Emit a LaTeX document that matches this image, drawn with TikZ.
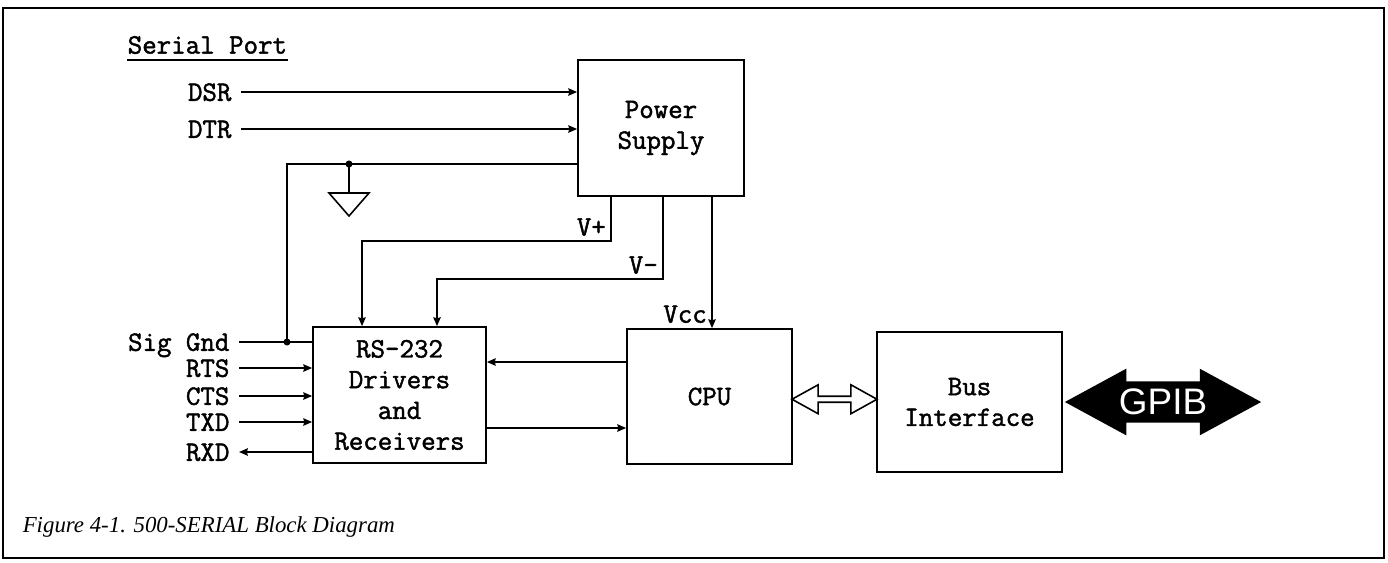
\documentclass[tikz,border=0pt]{standalone}
\usepackage{fontspec}
\setmainfont{Liberation Serif}
\setsansfont{Liberation Sans}
\setmonofont{Latin Modern Mono}[BoldFont={Latin Modern Mono}, BoldFeatures={FakeBold=1.6}]
\usetikzlibrary{arrows.meta,positioning,shapes.arrows,calc}

\begin{document}
\begin{tikzpicture}[
    x=0.02cm, y=-0.02cm,
    >={Stealth[length=5pt,width=4.2pt,inset=0.5pt]},
    font=\ttfamily\bfseries\fontsize{16}{17.5}\selectfont,
    line width=0.9pt,
    block/.style={
        draw,
        line width=1pt,
        align=center,
        inner sep=0pt
    },
    sig/.style={
        anchor=east,
        inner xsep=5pt,
        inner ysep=0pt,
        text height=10pt,
        text depth=0pt
    },
    volt/.style={anchor=south east, inner sep=2.5pt},
    linkarrow/.style={
        double arrow,
        draw,
        line width=0.9pt,
        inner sep=0pt,
        minimum height=1.7cm,
        minimum width=0.58cm,
        double arrow head extend=0.06cm,
        double arrow tip angle=58
    },
    gpibarrow/.style={
        double arrow,
        fill=black,
        draw=black,
        text=white,
        inner sep=0pt,
        font=\sffamily\mdseries\fontsize{21}{21}\selectfont,
        minimum height=3.86cm,
        minimum width=1.28cm,
        double arrow head extend=0.17cm,
        double arrow tip angle=57
    },
    arr/.style={->}
]

\useasboundingbox (0,0) rectangle (1388,562);
\draw[line width=0.8pt] (3,8) rectangle (1384,558);

% title
\node[anchor=west, inner sep=0pt] (title) at (127,45) {Serial Port};
\draw[line width=1.1pt] ([yshift=-3pt]title.south west) -- ([yshift=-3pt]title.south east);

% blocks
\node[block, minimum width=3.32cm, minimum height=2.72cm] (ps) at (661,128)
    {Power\\Supply};
\node[block, minimum width=3.46cm, minimum height=2.72cm] (rs) at (399.5,395)
    {RS-232\\Drivers\\and\\Receivers};
\node[block, minimum width=3.3cm, minimum height=2.7cm] (cpu) at (709.5,396.5)
    {CPU};
\node[block, minimum width=3.7cm, minimum height=2.8cm] (bus) at (969.5,402)
    {Bus\\Interface};
\node[gpibarrow, right=0.04cm of bus] (gpib) {GPIB};
\node[linkarrow] (link) at ($(cpu.east)!0.5!(bus.west)$) {};

% serial port lines
\node[sig] (dsr) at (241,92) {DSR};
\node[sig] (dtr) at (241,129) {DTR};
\node[sig] (gnd) at (239,342) {Sig Gnd};
\node[sig] (rts) at (239,368) {RTS};
\node[sig] (cts) at (239,396) {CTS};
\node[sig] (txd) at (239,422) {TXD};
\node[sig] (rxd) at (239,452) {RXD};

\draw[arr] (dsr) -- (dsr -| ps.west);
\draw[arr] (dtr) -- (dtr -| ps.west);
\draw[arr] (rts) -- (rts -| rs.west);
\draw[arr] (cts) -- (cts -| rs.west);
\draw[arr] (txd) -- (txd -| rs.west);
\draw[arr] (rxd -| rs.west) -- (rxd);

% signal ground
\coordinate (gcorner) at (287,164);
\coordinate (gtap) at (349,164);
\draw (gcorner -| ps.west) -- (gcorner) -- (gcorner |- gnd);
\draw (gnd) -- (gnd -| rs.west);
\fill (gtap) circle (2pt);
\fill (gcorner |- gnd) circle (2pt);
\draw (gtap) -- ++(0,29) coordinate (gtri);
\draw (gtri) ++(-20,0) -- ++(40,0) -- ++(-20,23) -- cycle;

% supply rails
\coordinate (vp) at (611,241);
\coordinate (vpin) at (362,241);
\draw[arr] (vp |- ps.south) -- (vp) -- (vpin) -- (vpin |- rs.north);
\node[volt] at (vp) {V+};

\coordinate (vm) at (663,279);
\coordinate (vmin) at (437,279);
\draw[arr] (vm |- ps.south) -- (vm) -- (vmin) -- (vmin |- rs.north);
\node[volt] at (vm) {V-};

\coordinate (vcc) at (712,0);
\draw[arr] (vcc |- ps.south) -- (vcc |- cpu.north);
\node[volt] at (vcc |- cpu.north) {Vcc};

% data lines
\coordinate (tx) at (0,362);
\coordinate (rx) at (0,428);
\draw[arr] (tx -| cpu.west) -- (tx -| rs.east);
\draw[arr] (rx -| rs.east) -- (rx -| cpu.west);

% caption
\node[anchor=west, inner sep=0pt, font=\rmfamily\mdseries\itshape\fontsize{13}{15}\selectfont]
    (caption) at (22,527) {Figure 4-1. 500-SERIAL Block Diagram};

\end{tikzpicture}
\end{document}
